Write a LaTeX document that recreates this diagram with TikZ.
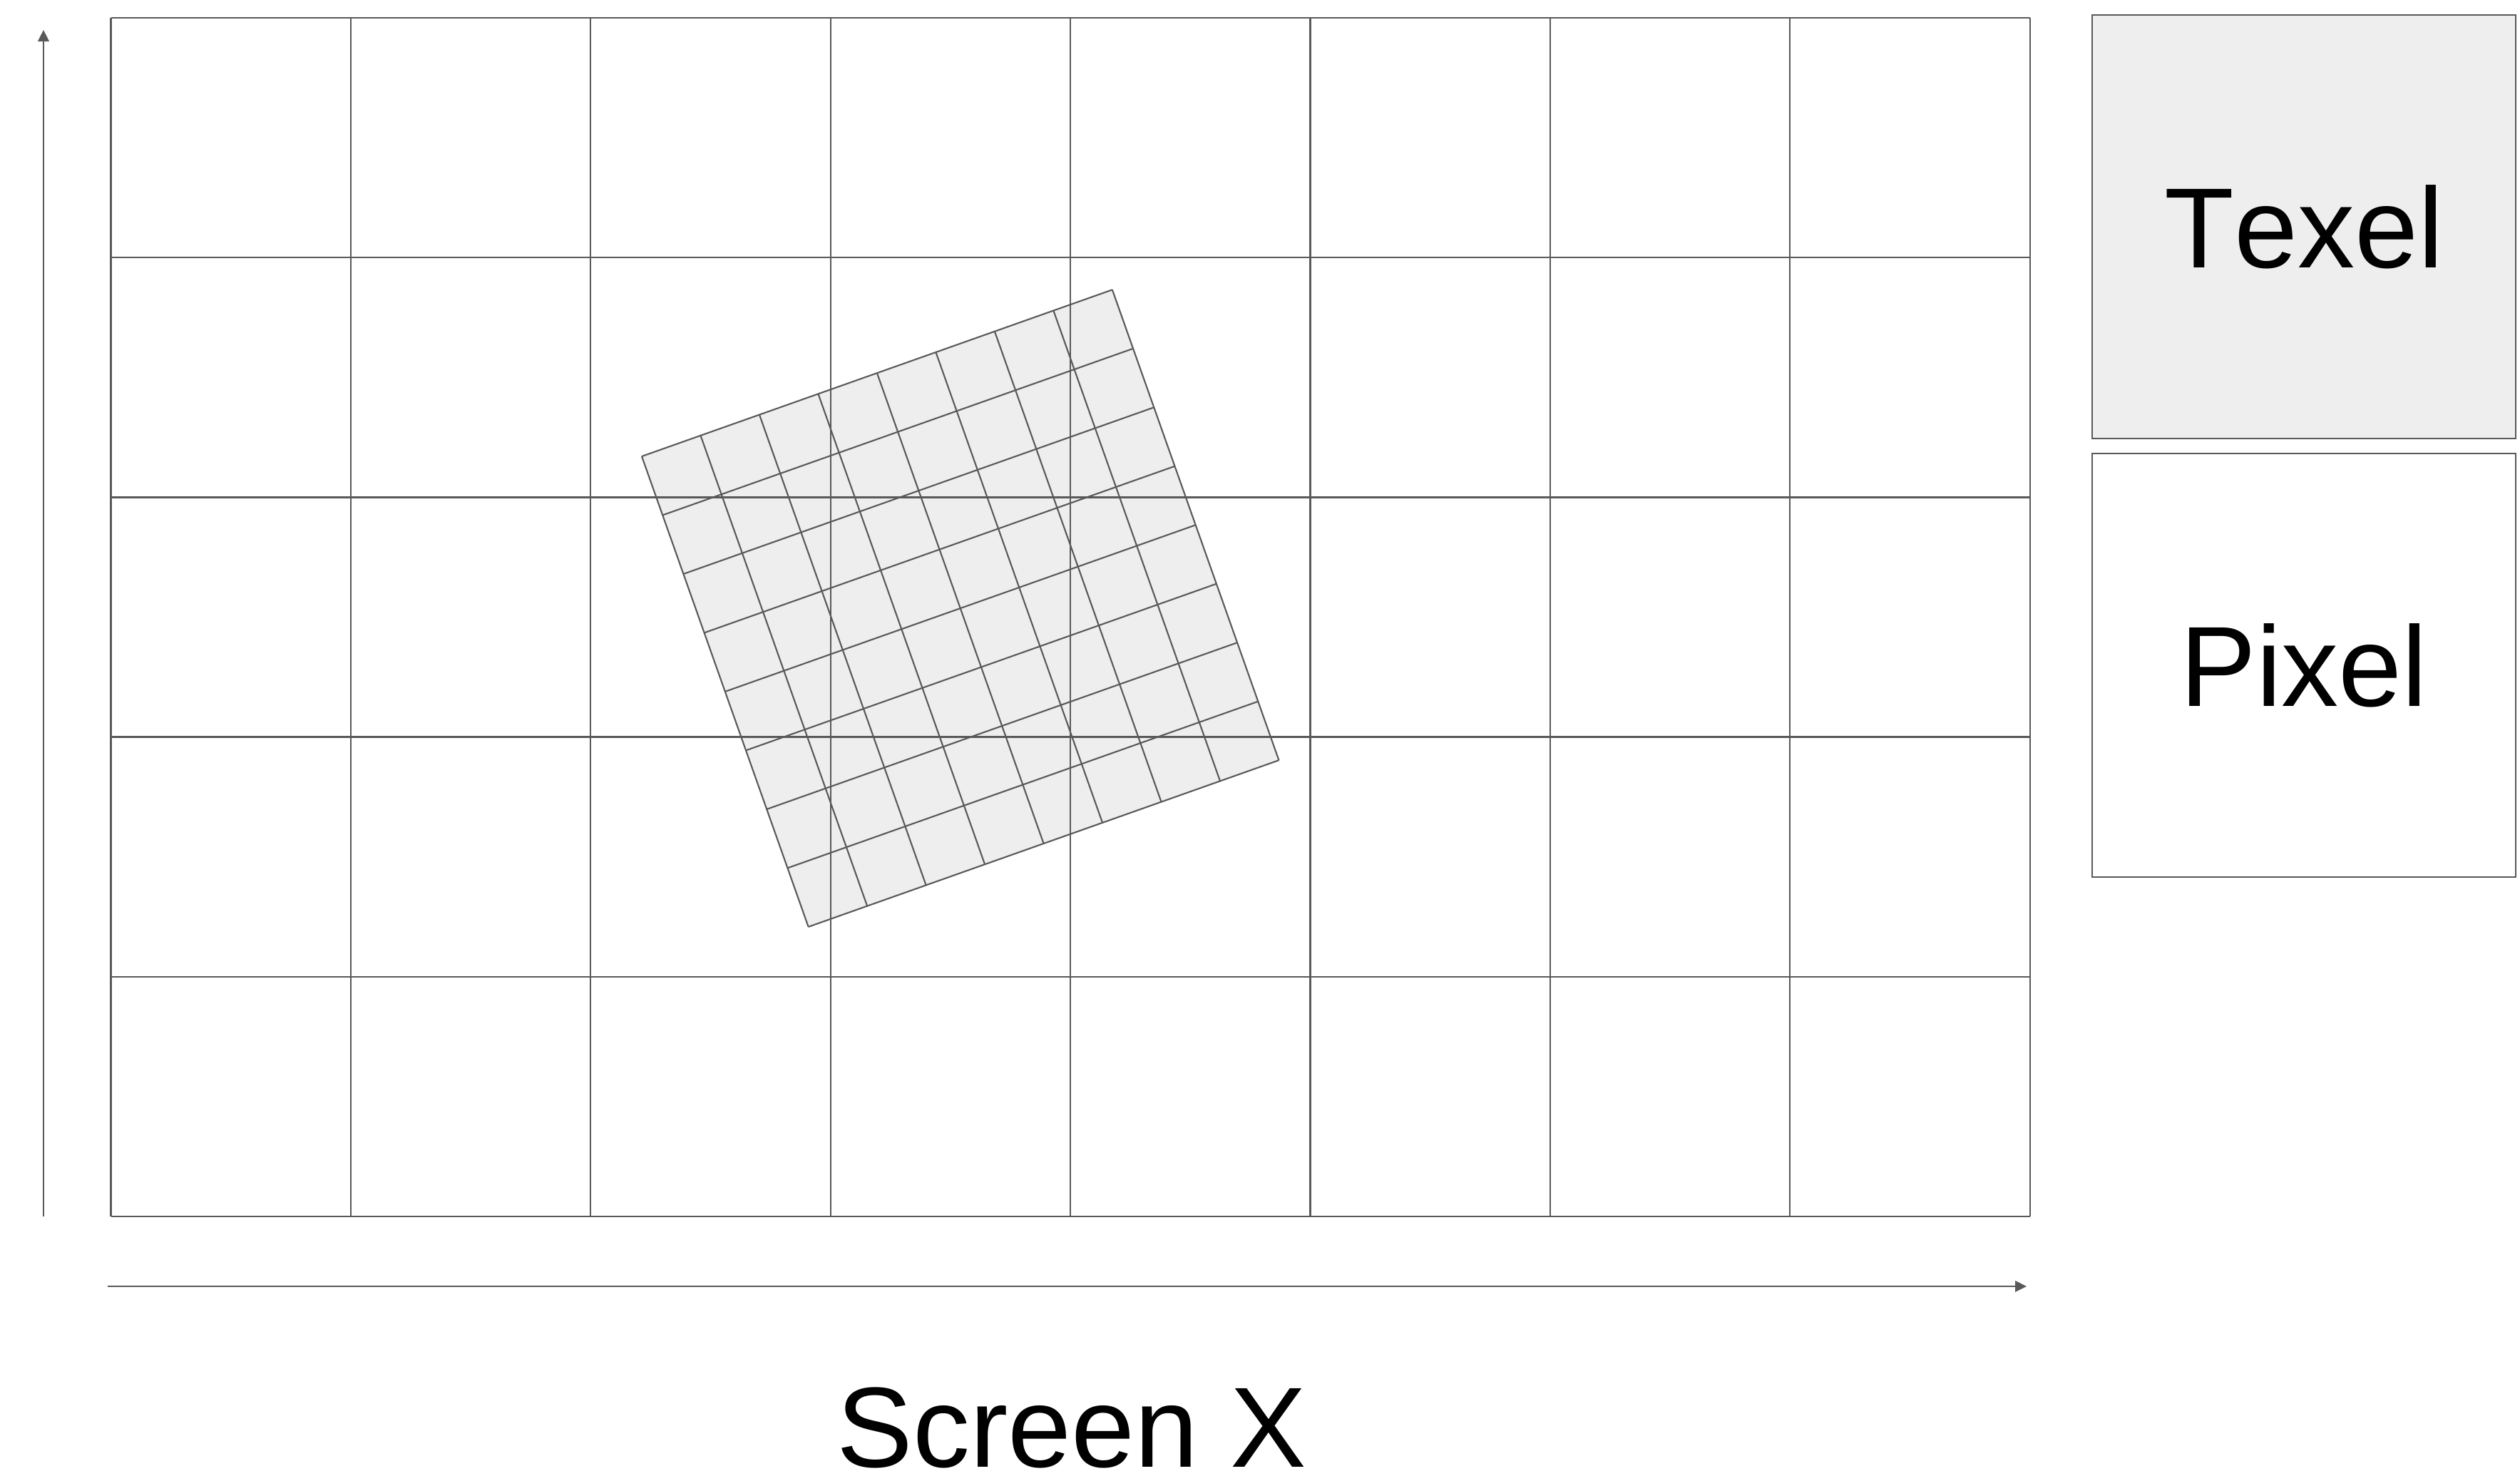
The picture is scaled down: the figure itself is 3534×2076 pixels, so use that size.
\documentclass[tikz,border=0pt]{standalone}
\usepackage{fontspec}
\setmainfont{Liberation Sans}[Kerning=Off]
\usepackage{xcolor}
\usetikzlibrary{arrows.meta,positioning}
\definecolor{linegray}{HTML}{595959}
\definecolor{texelfill}{HTML}{EEEEEE}
\tikzset{
  pixline/.style={draw=linegray,line width=0.65pt},
  texline/.style={draw=linegray,line width=0.6pt},
  axisarr/.style={-{Triangle[length=0.16cm,width=0.155cm]},line width=0.65pt,
                  draw=linegray},
  legend/.style={draw=linegray,line width=0.65pt,minimum width=5.94cm,
                 minimum height=5.94cm,inner sep=0pt,
                 font=\fontsize{45.5pt}{54pt}\selectfont},
  axislabel/.style={inner sep=0pt,font=\fontsize{45.5pt}{54pt}\selectfont}
}

\begin{document}
\begin{tikzpicture}[x=0.01cm,y=-0.01cm]
    \useasboundingbox (0,0) rectangle (3534,2076);
    % texels, rotated
    \begin{scope}[shift={(900,640)},rotate=19.5]
      \fill[texelfill] (0,0) rectangle (700,700);
      \foreach \k in {0,...,8} {
        \draw[texline] ({87.5*\k},0) -- ({87.5*\k},700);
        \draw[texline] (0,{87.5*\k}) -- (700,{87.5*\k});
      }
    \end{scope}
    % pixels
    \foreach \i in {0,...,8}
      \draw[pixline] ({155.5+336.4*\i},25) -- ({155.5+336.4*\i},1706);
    \foreach \j in {0,...,5}
      \draw[pixline] (155.5,{25+336.2*\j}) -- (2846.6,{25+336.2*\j});

    \coordinate (ybot) at (61,1706);
    \coordinate (ytop) at (61,42);
    \coordinate (xleft) at (151,1804);
    \coordinate (xright) at (2842,1804);
    \draw[axisarr] (ybot) -- (ytop);
    \draw[axisarr] (xleft) -- (xright);
    \node[axislabel] (screenx) at (1503,2002) {Screen X};

    \node[legend,fill=texelfill] (texel) at (3231,318) {Texel};
    \node[legend,fill=white] (pixel) at (3231,933) {Pixel};
  \end{tikzpicture}
\end{document}
